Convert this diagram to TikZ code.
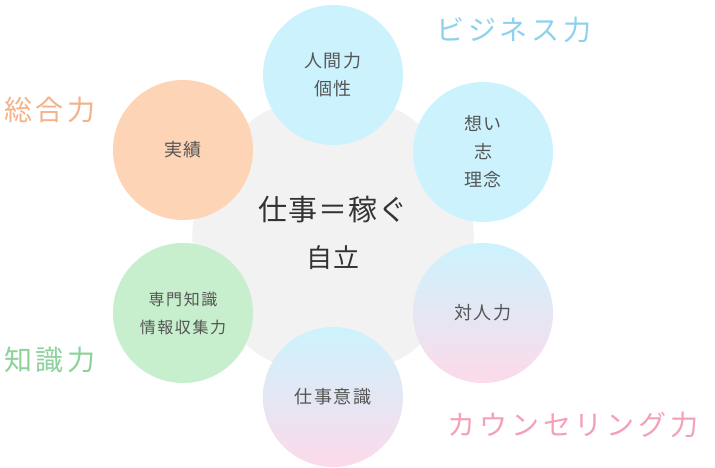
\documentclass[tikz,border=0pt]{standalone}
\usepackage{fontspec}
\newfontfamily\cjk[LetterSpace=10]{Noto Sans CJK JP}
\newfontfamily\cjkl[LetterSpace=14]{Noto Sans CJK JP}
\newfontfamily\cjkb[LetterSpace=4]{Noto Sans CJK JP}
\usetikzlibrary{shapes.geometric}
\definecolor{cy}{HTML}{CCF3FD}
\definecolor{pk}{HTML}{FDDAEA}
\definecolor{pe}{HTML}{FDD4B5}
\definecolor{gr}{HTML}{C8EFCD}
\definecolor{hx}{HTML}{F2F2F2}
\definecolor{tx}{HTML}{555555}
\tikzset{circ/.style={circle,minimum size=140pt,inner sep=0pt,align=center,text=tx,font=\cjk\fontsize{18}{28}\selectfont},
lab/.style={font=\cjkl\fontsize{28}{28}\selectfont,inner sep=0pt}}
\begin{document}
\begin{tikzpicture}[x=1pt,y=-1pt]
\useasboundingbox[fill=white] (0,0) rectangle (715,468);
\node[regular polygon,regular polygon sides=6,minimum size=305pt,inner sep=0pt,fill=hx,rounded corners=40pt] (hex) at (333,235) {};
\node[circ,fill=cy] (a) at (333,75) {人間力\\個性};
\node[circ,fill=cy] (b) at (483,152) {想い\\志\\理念};
\node[circ,top color=cy,bottom color=pk] (c) at (483,313) {対人力};
\node[circ,top color=cy,bottom color=pk] (d) at (333,397) {仕事意識};
\node[circ,fill=gr,font=\cjk\fontsize{16}{28}\selectfont] (e) at (183,313) {専門知識\\情報収集力};
\node[circ,fill=pe] (f) at (183,150) {実績};
\node[font=\cjkb\fontsize{29}{29}\selectfont,text=black!80] (t1) at (333,210) {仕事＝稼ぐ};
\node[font=\cjkb\fontsize{26}{26}\selectfont,text=black!80] (t2) at (333,258) {自立};
\node[lab,text={rgb,255:red,140;green,210;blue,238}] (l1) at (514,30) {ビジネス力};
\node[lab,text={rgb,255:red,243;green,178;blue,138}] (l2) at (50,110) {総合力};
\node[lab,text={rgb,255:red,140;green,210;blue,155}] (l3) at (50,360) {知識力};
\node[lab,text={rgb,255:red,245;green,160;blue,182}] (l4) at (573,425) {カウンセリング力};
\end{tikzpicture}
\end{document}
